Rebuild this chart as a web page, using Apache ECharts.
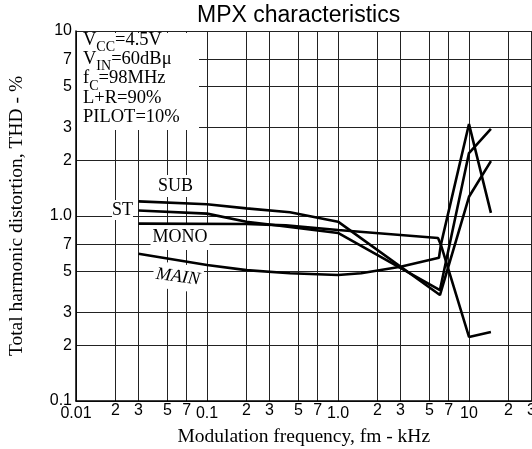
<!DOCTYPE html>
<html><head><meta charset="utf-8">
<script src="https://cdn.jsdelivr.net/npm/echarts@6/dist/echarts.min.js"></script>
<style>html,body{margin:0;padding:0;background:#fff}#c{width:532px;height:449px}</style>
</head><body><div id="c"></div>
<script>
// ---- tick values and labels ----
const xTickValues = [0.01,0.02,0.03,0.05,0.07,0.1,0.2,0.3,0.5,0.7,1,2,3,5,7,10,20,30];
const xTickLabels = ['0.01','2','3','5','7','0.1','2','3','5','7','1.0','2','3','5','7','10','2','3'];
const xDecades = [0.01,0.1,1,10];
const yTickValues = [0.1,0.2,0.3,0.5,0.7,1,2,3,5,7,10];
const yTickLabels = ['0.1','2','3','5','7','1.0','2','3','5','7','10'];

// ---- series (frequency kHz, THD %) ----
const subFreq  = [0.03, 0.1, 0.2, 0.43, 1.0, 6.0, 10, 14.7];
const subThd   = [1.20, 1.157, 1.10, 1.047, 0.932, 0.374, 1.27, 1.98];
const stFreq   = [0.03, 0.1, 0.2, 0.3, 1.0, 6.0, 10, 14.7];
const stThd    = [1.07, 1.03, 0.93, 0.90, 0.81, 0.398, 2.19, 2.96];
const monoFreq = [0.03, 0.2, 0.4, 1.0, 5.8, 6.1, 10, 14.7];
const monoThd  = [0.91, 0.905, 0.89, 0.84, 0.76, 0.70, 0.222, 0.236];
const mainFreq = [0.03, 0.1, 0.2, 0.43, 1.0, 1.5, 3.0, 5.9, 6.1, 10, 14.7];
const mainThd  = [0.625, 0.543, 0.51, 0.49, 0.48, 0.49, 0.532, 0.595, 0.70, 3.14, 1.04];

function pairs(xs, ys){ return xs.map((x,i)=>[x, ys[i]]); }
function findIdx(arr, v){
  let best=0, bd=1e9;
  arr.forEach((a,i)=>{ const d=Math.abs(Math.log10(a)-Math.log10(v)); if(d<bd){bd=d;best=i;} });
  return best;
}

const chart = echarts.init(document.getElementById('c'), null, {renderer:'canvas'});
const serif = 'Liberation Serif';
const sans = 'Liberation Sans';
const lineSty = {color:'#000', width:2.6};
function mk(name, xs, ys){
  return {name, type:'line', data:pairs(xs,ys), showSymbol:false, symbol:'none',
    lineStyle:lineSty, z:3, animation:false};
}

chart.setOption({
  animation:false,
  backgroundColor:'#fff',
  title:{text:'MPX characteristics', left:197, top:4, padding:0,
    textStyle:{fontFamily:sans, fontSize:23, fontWeight:'normal', color:'#000'}},
  grid:{left:76, right:0.5, top:31, bottom:48, containLabel:false, outerBoundsMode:'none'},
  xAxis:{
    type:'log', logBase:10, min:0.01, max:30,
    name:'Modulation frequency, fm - kHz', nameLocation:'middle', nameGap:24,
    nameTextStyle:{fontFamily:serif, fontSize:19.5, color:'#000'},
    axisLine:{show:true, lineStyle:{color:'#000', width:1.5}},
    axisTick:{show:false, customValues:xTickValues},
    splitLine:{show:true, lineStyle:{color:'#222', width:1}},
    minorSplitLine:{show:false},
    axisLabel:{customValues:xTickValues, interval:0, margin:1,
      formatter:function(v){ const i=findIdx(xTickValues,v); const t=xTickLabels[i];
        return (xDecades.indexOf(xTickValues[i])>=0) ? '{d|'+t+'}' : '{m|'+t+'}'; },
      rich:{
        m:{fontFamily:sans, fontSize:16, color:'#000', lineHeight:18},
        d:{fontFamily:sans, fontSize:16, color:'#000', lineHeight:18, padding:[5,0,0,0]}
      }}
  },
  yAxis:{
    type:'log', logBase:10, min:0.1, max:10,
    name:'Total harmonic distortion, THD - %', nameLocation:'middle', nameGap:49, nameRotate:90,
    nameTextStyle:{fontFamily:serif, fontSize:19.5, color:'#000'},
    axisLine:{show:true, lineStyle:{color:'#000', width:1.5}},
    axisTick:{show:false, customValues:yTickValues},
    splitLine:{show:true, lineStyle:{color:'#222', width:1}},
    axisLabel:{customValues:yTickValues, interval:0, margin:4,
      fontFamily:sans, fontSize:16, color:'#000',
      formatter:function(v){ return yTickLabels[findIdx(yTickValues,v)]; }}
  },
  graphic:[
    {type:'rect', z:1, shape:{x:77, y:33, width:122, height:97}, style:{fill:'#fff'}},
    {type:'text', z:2, x:83, y:30.4, style:{
      text:'{n|V}{s|CC}{n|=4.5V}\n{n|V}{s|IN}{n|=60dBμ}\n{n|f}{s|C}{n|=98MHz}\n{n|L+R=90%}\n{n|PILOT=10%}',
      align:'left', verticalAlign:'top', fill:'#000',
      rich:{
        n:{fontFamily:serif, fontSize:18.5, lineHeight:19.3, verticalAlign:'top', fill:'#000'},
        s:{fontFamily:serif, fontSize:14, lineHeight:9.3, padding:[10,0,0,0], verticalAlign:'top', fill:'#000'}
      }}},
    {type:'text', z:2, x:175.5, y:186, style:{text:'SUB', fontFamily:serif, fontSize:18, fill:'#000',
      backgroundColor:'#fff', padding:[2,1,2,1], align:'center', verticalAlign:'middle'}},
    {type:'text', z:2, x:122.5, y:210, style:{text:'ST', fontFamily:serif, fontSize:18, fill:'#000',
      backgroundColor:'#fff', padding:[1,0,1,0], align:'center', verticalAlign:'middle'}},
    {type:'text', z:2, x:180, y:237, style:{text:'MONO', fontFamily:serif, fontSize:18, fill:'#000',
      backgroundColor:'#fff', padding:[3,2,5,2], align:'center', verticalAlign:'middle'}},
    {type:'text', z:2, x:178, y:277, rotation:-0.13, style:{text:'MAIN', fontFamily:serif, fontSize:18,
      fontStyle:'italic', fill:'#000',
      backgroundColor:'#fff', padding:[4,3,4,3], align:'center', verticalAlign:'middle'}}
  ],
  series:[
    mk('SUB', subFreq, subThd),
    mk('ST', stFreq, stThd),
    mk('MONO', monoFreq, monoThd),
    mk('MAIN', mainFreq, mainThd)
  ]
});
</script>
</body></html>
